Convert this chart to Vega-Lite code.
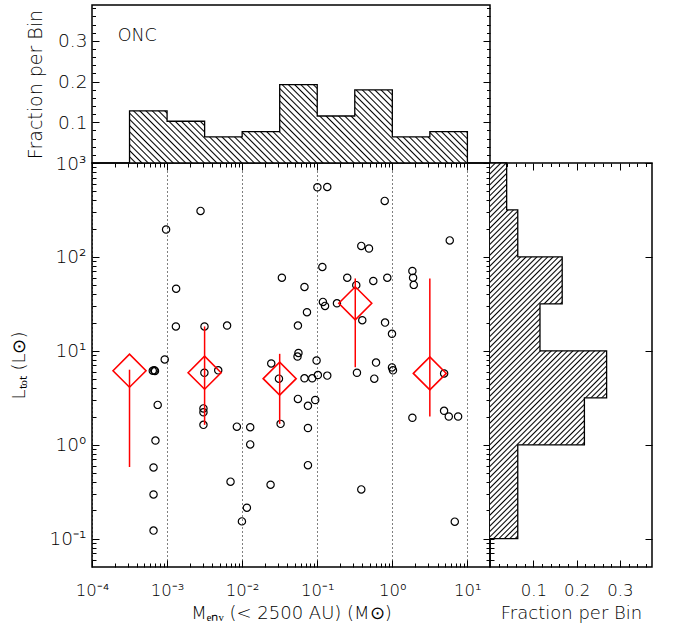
{
"$schema":"https://vega.github.io/schema/vega-lite/v6.json",
"padding":{"left":9,"top":4,"right":5,"bottom":5},
"spacing":0,
"bounds":"flush",
"config":{
 "view":{"stroke":"black","strokeWidth":1.5},
 "font":"DejaVu Sans",
 "axis":{"domain":false,"grid":false,"tickColor":"black","tickWidth":1,"labelColor":"black","titleColor":"black","labelFont":"DejaVu Sans","titleFont":"DejaVu Sans","titleFontWeight":200,"labelFontWeight":200,"labelFlush":false,"labelOverlap":false,"labelBound":false}
},
"datasets":{
 "pts":[
{"M":0.00097,"L":196},{"M":0.00279,"L":309},{"M":0.00132,"L":45.9},{"M":0.00131,"L":18.2},{"M":0.00315,"L":18.2},{"M":0.0063,"L":18.6},{"M":0.00093,"L":8.1},{"M":0.000645,"L":6.15},{"M":0.000675,"L":6.2},{"M":0.00069,"L":6.1},
{"M":0.00314,"L":5.85},{"M":0.0048,"L":6.2},{"M":0.0244,"L":7.35},{"M":0.0309,"L":5.06},{"M":0.1005,"L":552},{"M":0.136,"L":556},{"M":0.792,"L":395},{"M":5.82,"L":150},{"M":0.386,"L":131},{"M":0.489,"L":123},
{"M":0.117,"L":78.2},{"M":0.0338,"L":60.1},{"M":0.251,"L":60.1},{"M":0.558,"L":55.5},{"M":0.857,"L":60.1},{"M":1.85,"L":70.8},{"M":1.89,"L":60.1},{"M":1.93,"L":50.4},{"M":0.0676,"L":47.9},{"M":0.331,"L":50.1},
{"M":0.119,"L":33.2},{"M":0.127,"L":30.1},{"M":0.183,"L":32.1},{"M":0.073,"L":25.8},{"M":0.398,"L":21.2},{"M":0.8,"L":20},{"M":0.0553,"L":18.6},{"M":0.99,"L":15.2},{"M":0.0562,"L":9.5},{"M":0.0546,"L":8.7},
{"M":0.098,"L":7.9},{"M":0.607,"L":7.5},{"M":0.99,"L":6.67},{"M":1.02,"L":6.2},{"M":0.338,"L":5.85},{"M":0.0676,"L":5.1},{"M":0.0857,"L":5.1},{"M":0.102,"L":5.53},{"M":0.136,"L":5.45},{"M":0.575,"L":5.06},
{"M":4.9,"L":5.75},{"M":0.0553,"L":3.08},{"M":0.094,"L":3.0},{"M":0.0752,"L":2.6},{"M":0.0325,"L":1.67},{"M":0.0752,"L":1.51},{"M":0.0752,"L":0.607},{"M":0.0239,"L":0.376},{"M":0.386,"L":0.335},{"M":1.85,"L":1.94},
{"M":4.89,"L":2.3},{"M":5.65,"L":2.0},{"M":7.52,"L":2.0},{"M":6.79,"L":0.152},{"M":0.00075,"L":2.66},{"M":0.00305,"L":2.44},{"M":0.00305,"L":2.22},{"M":0.00305,"L":1.63},{"M":0.0007,"L":1.11},{"M":0.00066,"L":0.574},
{"M":0.00066,"L":0.296},{"M":0.00066,"L":0.122},{"M":0.0085,"L":1.56},{"M":0.0128,"L":1.54},{"M":0.0128,"L":1.01},{"M":0.007,"L":0.405},{"M":0.01156,"L":0.214},{"M":0.00993,"L":0.153}
 ],
 "med":[
{"M":0.000316,"L":6.15,"lo":0.58,"hi":6.3},
{"M":0.00316,"L":5.85,"lo":1.63,"hi":18.2},
{"M":0.0316,"L":5.06,"lo":1.67,"hi":9.3},
{"M":0.321,"L":32.1,"lo":6.7,"hi":59},
{"M":3.16,"L":5.75,"lo":2.0,"hi":59}
 ],
 "tophist":[
{"M":0.000316228,"f":0.128205},{"M":0.001,"f":0.102564},{"M":0.00316228,"f":0.064103},{"M":0.01,"f":0.076923},{"M":0.0316228,"f":0.192308},
{"M":0.1,"f":0.115385},{"M":0.316228,"f":0.179487},{"M":1,"f":0.064103},{"M":3.16228,"f":0.076923},{"M":10,"f":0.076923}
 ],
 "topline":[
{"o":0,"M":0.000316228,"f":0},{"o":1,"M":0.000316228,"f":0.128205},{"o":2,"M":0.001,"f":0.102564},{"o":3,"M":0.00316228,"f":0.064103},{"o":4,"M":0.01,"f":0.076923},{"o":5,"M":0.0316228,"f":0.192308},
{"o":6,"M":0.1,"f":0.115385},{"o":7,"M":0.316228,"f":0.179487},{"o":8,"M":1,"f":0.064103},{"o":9,"M":3.16228,"f":0.076923},{"o":10,"M":10,"f":0}
 ],
 "righthist":[
{"L":0.1,"f":0.064103},{"L":0.316228,"f":0.064103},{"L":1,"f":0.217949},{"L":3.16228,"f":0.269231},{"L":10,"f":0.115385},
{"L":31.6228,"f":0.166667},{"L":100,"f":0.064103},{"L":316.228,"f":0.038462},{"L":1000,"f":0.038462}
 ],
 "rightline":[
{"o":0,"L":0.1,"f":0},{"o":1,"L":0.1,"f":0.064103},{"o":2,"L":0.316228,"f":0.064103},{"o":3,"L":1,"f":0.217949},{"o":4,"L":3.16228,"f":0.269231},{"o":5,"L":10,"f":0.115385},
{"o":6,"L":31.6228,"f":0.166667},{"o":7,"L":100,"f":0.064103},{"o":8,"L":316.228,"f":0.038462},{"o":9,"L":1000,"f":0}
 ]
},
"vconcat":[
 {
  "width":398,"height":158,
  "layer":[
   {"data":{"name":"tophist"},
    "mark":{"type":"area","interpolate":"step-after","fill":{"gradient":"linear","x1":0,"y1":1,"x2":1.16893,"y2":0.72909,"stops":[
{"offset":0,"color":"#fff"},
{"offset":0.0115,"color":"#fff"},{"offset":0.015,"color":"#000"},{"offset":0.0185,"color":"#fff"},
{"offset":0.0265,"color":"#fff"},{"offset":0.03,"color":"#000"},{"offset":0.0335,"color":"#fff"},
{"offset":0.0415,"color":"#fff"},{"offset":0.045,"color":"#000"},{"offset":0.0485,"color":"#fff"},
{"offset":0.0565,"color":"#fff"},{"offset":0.06,"color":"#000"},{"offset":0.0635,"color":"#fff"},
{"offset":0.0715,"color":"#fff"},{"offset":0.075,"color":"#000"},{"offset":0.0785,"color":"#fff"},
{"offset":0.0865,"color":"#fff"},{"offset":0.09,"color":"#000"},{"offset":0.0935,"color":"#fff"},
{"offset":0.1015,"color":"#fff"},{"offset":0.105,"color":"#000"},{"offset":0.1085,"color":"#fff"},
{"offset":0.1165,"color":"#fff"},{"offset":0.12,"color":"#000"},{"offset":0.1235,"color":"#fff"},
{"offset":0.1315,"color":"#fff"},{"offset":0.135,"color":"#000"},{"offset":0.1385,"color":"#fff"},
{"offset":0.1465,"color":"#fff"},{"offset":0.15,"color":"#000"},{"offset":0.1535,"color":"#fff"},
{"offset":0.1615,"color":"#fff"},{"offset":0.165,"color":"#000"},{"offset":0.1685,"color":"#fff"},
{"offset":0.1765,"color":"#fff"},{"offset":0.18,"color":"#000"},{"offset":0.1835,"color":"#fff"},
{"offset":0.1915,"color":"#fff"},{"offset":0.195,"color":"#000"},{"offset":0.1985,"color":"#fff"},
{"offset":0.2065,"color":"#fff"},{"offset":0.21,"color":"#000"},{"offset":0.2135,"color":"#fff"},
{"offset":0.2215,"color":"#fff"},{"offset":0.225,"color":"#000"},{"offset":0.2285,"color":"#fff"},
{"offset":0.2365,"color":"#fff"},{"offset":0.24,"color":"#000"},{"offset":0.2435,"color":"#fff"},
{"offset":0.2515,"color":"#fff"},{"offset":0.255,"color":"#000"},{"offset":0.2585,"color":"#fff"},
{"offset":0.2665,"color":"#fff"},{"offset":0.27,"color":"#000"},{"offset":0.2735,"color":"#fff"},
{"offset":0.2815,"color":"#fff"},{"offset":0.285,"color":"#000"},{"offset":0.2885,"color":"#fff"},
{"offset":0.2965,"color":"#fff"},{"offset":0.3,"color":"#000"},{"offset":0.3035,"color":"#fff"},
{"offset":0.3115,"color":"#fff"},{"offset":0.315,"color":"#000"},{"offset":0.3185,"color":"#fff"},
{"offset":0.3265,"color":"#fff"},{"offset":0.33,"color":"#000"},{"offset":0.3335,"color":"#fff"},
{"offset":0.3415,"color":"#fff"},{"offset":0.345,"color":"#000"},{"offset":0.3485,"color":"#fff"},
{"offset":0.3565,"color":"#fff"},{"offset":0.36,"color":"#000"},{"offset":0.3635,"color":"#fff"},
{"offset":0.3715,"color":"#fff"},{"offset":0.375,"color":"#000"},{"offset":0.3785,"color":"#fff"},
{"offset":0.3865,"color":"#fff"},{"offset":0.39,"color":"#000"},{"offset":0.3935,"color":"#fff"},
{"offset":0.4015,"color":"#fff"},{"offset":0.405,"color":"#000"},{"offset":0.4085,"color":"#fff"},
{"offset":0.4165,"color":"#fff"},{"offset":0.42,"color":"#000"},{"offset":0.4235,"color":"#fff"},
{"offset":0.4315,"color":"#fff"},{"offset":0.435,"color":"#000"},{"offset":0.4385,"color":"#fff"},
{"offset":0.4465,"color":"#fff"},{"offset":0.45,"color":"#000"},{"offset":0.4535,"color":"#fff"},
{"offset":0.4615,"color":"#fff"},{"offset":0.465,"color":"#000"},{"offset":0.4685,"color":"#fff"},
{"offset":0.4765,"color":"#fff"},{"offset":0.48,"color":"#000"},{"offset":0.4835,"color":"#fff"},
{"offset":0.4915,"color":"#fff"},{"offset":0.495,"color":"#000"},{"offset":0.4985,"color":"#fff"},
{"offset":0.5065,"color":"#fff"},{"offset":0.51,"color":"#000"},{"offset":0.5135,"color":"#fff"},
{"offset":0.5215,"color":"#fff"},{"offset":0.525,"color":"#000"},{"offset":0.5285,"color":"#fff"},
{"offset":0.5365,"color":"#fff"},{"offset":0.54,"color":"#000"},{"offset":0.5435,"color":"#fff"},
{"offset":0.5515,"color":"#fff"},{"offset":0.555,"color":"#000"},{"offset":0.5585,"color":"#fff"},
{"offset":0.5665,"color":"#fff"},{"offset":0.57,"color":"#000"},{"offset":0.5735,"color":"#fff"},
{"offset":0.5815,"color":"#fff"},{"offset":0.585,"color":"#000"},{"offset":0.5885,"color":"#fff"},
{"offset":0.5965,"color":"#fff"},{"offset":0.6,"color":"#000"},{"offset":0.6035,"color":"#fff"},
{"offset":0.6115,"color":"#fff"},{"offset":0.615,"color":"#000"},{"offset":0.6185,"color":"#fff"},
{"offset":0.6265,"color":"#fff"},{"offset":0.63,"color":"#000"},{"offset":0.6335,"color":"#fff"},
{"offset":0.6415,"color":"#fff"},{"offset":0.645,"color":"#000"},{"offset":0.6485,"color":"#fff"},
{"offset":0.6565,"color":"#fff"},{"offset":0.66,"color":"#000"},{"offset":0.6635,"color":"#fff"},
{"offset":0.6715,"color":"#fff"},{"offset":0.675,"color":"#000"},{"offset":0.6785,"color":"#fff"},
{"offset":0.6865,"color":"#fff"},{"offset":0.69,"color":"#000"},{"offset":0.6935,"color":"#fff"},
{"offset":0.7015,"color":"#fff"},{"offset":0.705,"color":"#000"},{"offset":0.7085,"color":"#fff"},
{"offset":0.7165,"color":"#fff"},{"offset":0.72,"color":"#000"},{"offset":0.7235,"color":"#fff"},
{"offset":0.7315,"color":"#fff"},{"offset":0.735,"color":"#000"},{"offset":0.7385,"color":"#fff"},
{"offset":0.7465,"color":"#fff"},{"offset":0.75,"color":"#000"},{"offset":0.7535,"color":"#fff"},
{"offset":0.7615,"color":"#fff"},{"offset":0.765,"color":"#000"},{"offset":0.7685,"color":"#fff"},
{"offset":0.7765,"color":"#fff"},{"offset":0.78,"color":"#000"},{"offset":0.7835,"color":"#fff"},
{"offset":0.7915,"color":"#fff"},{"offset":0.795,"color":"#000"},{"offset":0.7985,"color":"#fff"},
{"offset":0.8065,"color":"#fff"},{"offset":0.81,"color":"#000"},{"offset":0.8135,"color":"#fff"},
{"offset":0.8215,"color":"#fff"},{"offset":0.825,"color":"#000"},{"offset":0.8285,"color":"#fff"},
{"offset":0.8365,"color":"#fff"},{"offset":0.84,"color":"#000"},{"offset":0.8435,"color":"#fff"},
{"offset":0.8515,"color":"#fff"},{"offset":0.855,"color":"#000"},{"offset":0.8585,"color":"#fff"},
{"offset":0.8665,"color":"#fff"},{"offset":0.87,"color":"#000"},{"offset":0.8735,"color":"#fff"},
{"offset":0.8815,"color":"#fff"},{"offset":0.885,"color":"#000"},{"offset":0.8885,"color":"#fff"},
{"offset":0.8965,"color":"#fff"},{"offset":0.9,"color":"#000"},{"offset":0.9035,"color":"#fff"},
{"offset":0.9115,"color":"#fff"},{"offset":0.915,"color":"#000"},{"offset":0.9185,"color":"#fff"},
{"offset":0.9265,"color":"#fff"},{"offset":0.93,"color":"#000"},{"offset":0.9335,"color":"#fff"},
{"offset":0.9415,"color":"#fff"},{"offset":0.945,"color":"#000"},{"offset":0.9485,"color":"#fff"},
{"offset":0.9565,"color":"#fff"},{"offset":0.96,"color":"#000"},{"offset":0.9635,"color":"#fff"},
{"offset":0.9715,"color":"#fff"},{"offset":0.975,"color":"#000"},{"offset":0.9785,"color":"#fff"},
{"offset":0.9865,"color":"#fff"},{"offset":0.99,"color":"#000"},{"offset":0.9935,"color":"#fff"},
{"offset":1,"color":"#fff"}
    ]}},
    "encoding":{
     "x":{"field":"M","type":"quantitative","scale":{"type":"log","domain":[0.0001,20],"nice":false},"axis":null},
     "y":{"field":"f","type":"quantitative","stack":null,"scale":{"domain":[0,0.388],"nice":false,"zero":true},
      "axis":{"orient":"left","values":[0.1,0.2,0.3],"format":".1f","tickSize":-7,"labelPadding":12,"labelFontSize":18.5,"title":"Fraction per Bin","titleFontSize":19,"titlePadding":12}}
    }},
   {"data":{"name":"topline"},
    "mark":{"type":"line","interpolate":"step-after","color":"black","strokeWidth":1.3},
    "encoding":{
     "x":{"field":"M","type":"quantitative","axis":null},
     "y":{"field":"f","type":"quantitative","axis":{"orient":"left","values":[0.02,0.04,0.06,0.08,0.12,0.14,0.16,0.18,0.22,0.24,0.26,0.28,0.32,0.34,0.36,0.38],"tickSize":-3.5,"labels":false,"title":null}},
     "order":{"field":"o","type":"quantitative"}
    }},
   {"data":{"values":[{}]},
    "mark":{"type":"text","text":"ONC","align":"left","baseline":"alphabetic","fontSize":17.5,"fontWeight":200,"font":"DejaVu Sans","color":"black"},
    "encoding":{
     "x":{"datum":0.00022,"type":"quantitative","axis":null},
     "y":{"datum":0.30,"type":"quantitative","axis":{"orient":"right","values":[0.1,0.2,0.3],"tickSize":-7,"labels":false,"title":null}}
    }},
   {"data":{"name":"topline"},
    "mark":{"type":"point","opacity":0},
    "encoding":{
     "x":{"field":"M","type":"quantitative","axis":null},
     "y":{"field":"f","type":"quantitative","axis":{"orient":"right","values":[0.02,0.04,0.06,0.08,0.12,0.14,0.16,0.18,0.22,0.24,0.26,0.28,0.32,0.34,0.36,0.38],"tickSize":-3.5,"labels":false,"title":null}}
    }}
  ],
  "resolve":{"axis":{"x":"independent","y":"independent"}}
 },
 {
  "hconcat":[
   {
    "width":398,"height":404,
    "layer":[
     {"data":{"name":"pts"},
      "mark":{"type":"point","shape":"circle","size":53,"filled":false,"stroke":"black","strokeWidth":1.2,"opacity":1},
      "encoding":{
       "x":{"field":"M","type":"quantitative","scale":{"type":"log","domain":[0.0001,20],"nice":false},
        "axis":{"orient":"bottom","values":[0.0001,0.001,0.01,0.1,1,10],"labelExpr":"'10' + ['⁻⁴','⁻³','⁻²','⁻¹','⁰','¹','²','³'][round(log(datum.value)/LN10)+4]","tickSize":-7,"labelPadding":22,"labelFontSize":16.5,"grid":true,"gridDash":[1,3],"gridColor":"black","gridOpacity":1,"gridWidth":1,"title":"Mₑₙᵥ (< 2500 AU) (M⊙)","titleFontSize":18,"titlePadding":6}},
       "y":{"field":"L","type":"quantitative","scale":{"type":"log","domain":[0.05,1000],"nice":false},
        "axis":{"orient":"left","values":[0.1,1,10,100,1000],"labelExpr":"'10' + ['⁻⁴','⁻³','⁻²','⁻¹','⁰','¹','²','³'][round(log(datum.value)/LN10)+4]","tickSize":-7,"labelPadding":13,"labelFontSize":18.5,"title":"Lₜₒₜ (L⊙)","titleFontSize":18,"titlePadding":21}}
      }},
     {"data":{"name":"med"},
      "mark":{"type":"rule","color":"#ff0000","strokeWidth":1.5},
      "encoding":{
       "x":{"field":"M","type":"quantitative","axis":{"orient":"bottom","values":[0.0002,0.0003,0.0004,0.0005,0.0006,0.0007,0.0008,0.0009,0.002,0.003,0.004,0.005,0.006,0.007,0.008,0.009,0.02,0.03,0.04,0.05,0.06,0.07,0.08,0.09,0.2,0.3,0.4,0.5,0.6,0.7,0.8,0.9,2,3,4,5,6,7,8,9],"tickSize":-4,"labels":false,"title":null}},
       "y":{"field":"lo","type":"quantitative","axis":{"orient":"left","values":[0.06,0.07,0.08,0.09,0.2,0.3,0.4,0.5,0.6,0.7,0.8,0.9,2,3,4,5,6,7,8,9,20,30,40,50,60,70,80,90,200,300,400,500,600,700,800,900],"tickSize":-4,"labels":false,"title":null}},
       "y2":{"field":"hi"}
      }},
     {"data":{"name":"med"},
      "mark":{"type":"point","shape":"diamond","size":1089,"filled":false,"stroke":"#ff0000","strokeWidth":1.6,"opacity":1},
      "encoding":{
       "x":{"field":"M","type":"quantitative","axis":{"orient":"top","values":[0.0001,0.001,0.01,0.1,1,10],"tickSize":-7,"labels":false,"title":null}},
       "y":{"field":"L","type":"quantitative","axis":{"orient":"right","values":[0.1,1,10,100,1000],"tickSize":-7,"labels":false,"title":null}}
      }},
     {"data":{"name":"med"},
      "mark":{"type":"point","opacity":0},
      "encoding":{
       "x":{"field":"M","type":"quantitative","axis":{"orient":"top","values":[0.0002,0.0003,0.0004,0.0005,0.0006,0.0007,0.0008,0.0009,0.002,0.003,0.004,0.005,0.006,0.007,0.008,0.009,0.02,0.03,0.04,0.05,0.06,0.07,0.08,0.09,0.2,0.3,0.4,0.5,0.6,0.7,0.8,0.9,2,3,4,5,6,7,8,9],"tickSize":-4,"labels":false,"title":null}},
       "y":{"field":"L","type":"quantitative","axis":{"orient":"right","values":[0.06,0.07,0.08,0.09,0.2,0.3,0.4,0.5,0.6,0.7,0.8,0.9,2,3,4,5,6,7,8,9,20,30,40,50,60,70,80,90,200,300,400,500,600,700,800,900],"tickSize":-4,"labels":false,"title":null}}
      }}
    ],
    "resolve":{"axis":{"x":"independent","y":"independent"}}
   },
   {
    "width":162,"height":404,
    "layer":[
     {"data":{"name":"righthist"},
      "mark":{"type":"area","orient":"horizontal","interpolate":"step-after","fill":{"gradient":"linear","x1":0,"y1":0,"x2":0.37099,"y2":1.19523,"stops":[
{"offset":0,"color":"#fff"},
{"offset":0.008,"color":"#fff"},{"offset":0.011,"color":"#000"},{"offset":0.014,"color":"#fff"},
{"offset":0.019,"color":"#fff"},{"offset":0.022,"color":"#000"},{"offset":0.025,"color":"#fff"},
{"offset":0.030,"color":"#fff"},{"offset":0.033,"color":"#000"},{"offset":0.036,"color":"#fff"},
{"offset":0.041,"color":"#fff"},{"offset":0.044,"color":"#000"},{"offset":0.047,"color":"#fff"},
{"offset":0.052,"color":"#fff"},{"offset":0.055,"color":"#000"},{"offset":0.058,"color":"#fff"},
{"offset":0.063,"color":"#fff"},{"offset":0.066,"color":"#000"},{"offset":0.069,"color":"#fff"},
{"offset":0.074,"color":"#fff"},{"offset":0.077,"color":"#000"},{"offset":0.080,"color":"#fff"},
{"offset":0.085,"color":"#fff"},{"offset":0.088,"color":"#000"},{"offset":0.091,"color":"#fff"},
{"offset":0.096,"color":"#fff"},{"offset":0.099,"color":"#000"},{"offset":0.102,"color":"#fff"},
{"offset":0.107,"color":"#fff"},{"offset":0.110,"color":"#000"},{"offset":0.113,"color":"#fff"},
{"offset":0.118,"color":"#fff"},{"offset":0.121,"color":"#000"},{"offset":0.124,"color":"#fff"},
{"offset":0.129,"color":"#fff"},{"offset":0.132,"color":"#000"},{"offset":0.135,"color":"#fff"},
{"offset":0.140,"color":"#fff"},{"offset":0.143,"color":"#000"},{"offset":0.146,"color":"#fff"},
{"offset":0.151,"color":"#fff"},{"offset":0.154,"color":"#000"},{"offset":0.157,"color":"#fff"},
{"offset":0.162,"color":"#fff"},{"offset":0.165,"color":"#000"},{"offset":0.168,"color":"#fff"},
{"offset":0.173,"color":"#fff"},{"offset":0.176,"color":"#000"},{"offset":0.179,"color":"#fff"},
{"offset":0.184,"color":"#fff"},{"offset":0.187,"color":"#000"},{"offset":0.190,"color":"#fff"},
{"offset":0.195,"color":"#fff"},{"offset":0.198,"color":"#000"},{"offset":0.201,"color":"#fff"},
{"offset":0.206,"color":"#fff"},{"offset":0.209,"color":"#000"},{"offset":0.212,"color":"#fff"},
{"offset":0.217,"color":"#fff"},{"offset":0.220,"color":"#000"},{"offset":0.223,"color":"#fff"},
{"offset":0.228,"color":"#fff"},{"offset":0.231,"color":"#000"},{"offset":0.234,"color":"#fff"},
{"offset":0.239,"color":"#fff"},{"offset":0.242,"color":"#000"},{"offset":0.245,"color":"#fff"},
{"offset":0.250,"color":"#fff"},{"offset":0.253,"color":"#000"},{"offset":0.256,"color":"#fff"},
{"offset":0.261,"color":"#fff"},{"offset":0.264,"color":"#000"},{"offset":0.267,"color":"#fff"},
{"offset":0.272,"color":"#fff"},{"offset":0.275,"color":"#000"},{"offset":0.278,"color":"#fff"},
{"offset":0.283,"color":"#fff"},{"offset":0.286,"color":"#000"},{"offset":0.289,"color":"#fff"},
{"offset":0.294,"color":"#fff"},{"offset":0.297,"color":"#000"},{"offset":0.300,"color":"#fff"},
{"offset":0.305,"color":"#fff"},{"offset":0.308,"color":"#000"},{"offset":0.311,"color":"#fff"},
{"offset":0.316,"color":"#fff"},{"offset":0.319,"color":"#000"},{"offset":0.322,"color":"#fff"},
{"offset":0.327,"color":"#fff"},{"offset":0.330,"color":"#000"},{"offset":0.333,"color":"#fff"},
{"offset":0.338,"color":"#fff"},{"offset":0.341,"color":"#000"},{"offset":0.344,"color":"#fff"},
{"offset":0.349,"color":"#fff"},{"offset":0.352,"color":"#000"},{"offset":0.355,"color":"#fff"},
{"offset":0.360,"color":"#fff"},{"offset":0.363,"color":"#000"},{"offset":0.366,"color":"#fff"},
{"offset":0.371,"color":"#fff"},{"offset":0.374,"color":"#000"},{"offset":0.377,"color":"#fff"},
{"offset":0.382,"color":"#fff"},{"offset":0.385,"color":"#000"},{"offset":0.388,"color":"#fff"},
{"offset":0.393,"color":"#fff"},{"offset":0.396,"color":"#000"},{"offset":0.399,"color":"#fff"},
{"offset":0.404,"color":"#fff"},{"offset":0.407,"color":"#000"},{"offset":0.410,"color":"#fff"},
{"offset":0.415,"color":"#fff"},{"offset":0.418,"color":"#000"},{"offset":0.421,"color":"#fff"},
{"offset":0.426,"color":"#fff"},{"offset":0.429,"color":"#000"},{"offset":0.432,"color":"#fff"},
{"offset":0.437,"color":"#fff"},{"offset":0.440,"color":"#000"},{"offset":0.443,"color":"#fff"},
{"offset":0.448,"color":"#fff"},{"offset":0.451,"color":"#000"},{"offset":0.454,"color":"#fff"},
{"offset":0.459,"color":"#fff"},{"offset":0.462,"color":"#000"},{"offset":0.465,"color":"#fff"},
{"offset":0.470,"color":"#fff"},{"offset":0.473,"color":"#000"},{"offset":0.476,"color":"#fff"},
{"offset":0.481,"color":"#fff"},{"offset":0.484,"color":"#000"},{"offset":0.487,"color":"#fff"},
{"offset":0.492,"color":"#fff"},{"offset":0.495,"color":"#000"},{"offset":0.498,"color":"#fff"},
{"offset":0.503,"color":"#fff"},{"offset":0.506,"color":"#000"},{"offset":0.509,"color":"#fff"},
{"offset":0.514,"color":"#fff"},{"offset":0.517,"color":"#000"},{"offset":0.520,"color":"#fff"},
{"offset":0.525,"color":"#fff"},{"offset":0.528,"color":"#000"},{"offset":0.531,"color":"#fff"},
{"offset":0.536,"color":"#fff"},{"offset":0.539,"color":"#000"},{"offset":0.542,"color":"#fff"},
{"offset":0.547,"color":"#fff"},{"offset":0.550,"color":"#000"},{"offset":0.553,"color":"#fff"},
{"offset":0.558,"color":"#fff"},{"offset":0.561,"color":"#000"},{"offset":0.564,"color":"#fff"},
{"offset":0.569,"color":"#fff"},{"offset":0.572,"color":"#000"},{"offset":0.575,"color":"#fff"},
{"offset":0.580,"color":"#fff"},{"offset":0.583,"color":"#000"},{"offset":0.586,"color":"#fff"},
{"offset":0.591,"color":"#fff"},{"offset":0.594,"color":"#000"},{"offset":0.597,"color":"#fff"},
{"offset":0.602,"color":"#fff"},{"offset":0.605,"color":"#000"},{"offset":0.608,"color":"#fff"},
{"offset":0.613,"color":"#fff"},{"offset":0.616,"color":"#000"},{"offset":0.619,"color":"#fff"},
{"offset":0.624,"color":"#fff"},{"offset":0.627,"color":"#000"},{"offset":0.630,"color":"#fff"},
{"offset":0.635,"color":"#fff"},{"offset":0.638,"color":"#000"},{"offset":0.641,"color":"#fff"},
{"offset":0.646,"color":"#fff"},{"offset":0.649,"color":"#000"},{"offset":0.652,"color":"#fff"},
{"offset":0.657,"color":"#fff"},{"offset":0.660,"color":"#000"},{"offset":0.663,"color":"#fff"},
{"offset":0.668,"color":"#fff"},{"offset":0.671,"color":"#000"},{"offset":0.674,"color":"#fff"},
{"offset":0.679,"color":"#fff"},{"offset":0.682,"color":"#000"},{"offset":0.685,"color":"#fff"},
{"offset":0.690,"color":"#fff"},{"offset":0.693,"color":"#000"},{"offset":0.696,"color":"#fff"},
{"offset":0.701,"color":"#fff"},{"offset":0.704,"color":"#000"},{"offset":0.707,"color":"#fff"},
{"offset":0.712,"color":"#fff"},{"offset":0.715,"color":"#000"},{"offset":0.718,"color":"#fff"},
{"offset":0.723,"color":"#fff"},{"offset":0.726,"color":"#000"},{"offset":0.729,"color":"#fff"},
{"offset":0.734,"color":"#fff"},{"offset":0.737,"color":"#000"},{"offset":0.740,"color":"#fff"},
{"offset":0.745,"color":"#fff"},{"offset":0.748,"color":"#000"},{"offset":0.751,"color":"#fff"},
{"offset":0.756,"color":"#fff"},{"offset":0.759,"color":"#000"},{"offset":0.762,"color":"#fff"},
{"offset":0.767,"color":"#fff"},{"offset":0.770,"color":"#000"},{"offset":0.773,"color":"#fff"},
{"offset":0.778,"color":"#fff"},{"offset":0.781,"color":"#000"},{"offset":0.784,"color":"#fff"},
{"offset":0.789,"color":"#fff"},{"offset":0.792,"color":"#000"},{"offset":0.795,"color":"#fff"},
{"offset":0.800,"color":"#fff"},{"offset":0.803,"color":"#000"},{"offset":0.806,"color":"#fff"},
{"offset":0.811,"color":"#fff"},{"offset":0.814,"color":"#000"},{"offset":0.817,"color":"#fff"},
{"offset":0.822,"color":"#fff"},{"offset":0.825,"color":"#000"},{"offset":0.828,"color":"#fff"},
{"offset":0.833,"color":"#fff"},{"offset":0.836,"color":"#000"},{"offset":0.839,"color":"#fff"},
{"offset":0.844,"color":"#fff"},{"offset":0.847,"color":"#000"},{"offset":0.850,"color":"#fff"},
{"offset":0.855,"color":"#fff"},{"offset":0.858,"color":"#000"},{"offset":0.861,"color":"#fff"},
{"offset":0.866,"color":"#fff"},{"offset":0.869,"color":"#000"},{"offset":0.872,"color":"#fff"},
{"offset":0.877,"color":"#fff"},{"offset":0.880,"color":"#000"},{"offset":0.883,"color":"#fff"},
{"offset":0.888,"color":"#fff"},{"offset":0.891,"color":"#000"},{"offset":0.894,"color":"#fff"},
{"offset":0.899,"color":"#fff"},{"offset":0.902,"color":"#000"},{"offset":0.905,"color":"#fff"},
{"offset":0.910,"color":"#fff"},{"offset":0.913,"color":"#000"},{"offset":0.916,"color":"#fff"},
{"offset":0.921,"color":"#fff"},{"offset":0.924,"color":"#000"},{"offset":0.927,"color":"#fff"},
{"offset":0.932,"color":"#fff"},{"offset":0.935,"color":"#000"},{"offset":0.938,"color":"#fff"},
{"offset":0.943,"color":"#fff"},{"offset":0.946,"color":"#000"},{"offset":0.949,"color":"#fff"},
{"offset":0.954,"color":"#fff"},{"offset":0.957,"color":"#000"},{"offset":0.960,"color":"#fff"},
{"offset":0.965,"color":"#fff"},{"offset":0.968,"color":"#000"},{"offset":0.971,"color":"#fff"},
{"offset":0.976,"color":"#fff"},{"offset":0.979,"color":"#000"},{"offset":0.982,"color":"#fff"},
{"offset":0.987,"color":"#fff"},{"offset":0.990,"color":"#000"},{"offset":0.993,"color":"#fff"},
{"offset":1,"color":"#fff"}
      ]}},
      "encoding":{
       "x":{"field":"f","type":"quantitative","stack":null,"scale":{"domain":[0,0.374],"nice":false,"zero":true},
        "axis":{"orient":"bottom","values":[0.1,0.2,0.3],"format":".1f","tickSize":-7,"labelPadding":22,"labelFontSize":16.5,"title":"Fraction per Bin","titleFontSize":18,"titlePadding":6}},
       "y":{"field":"L","type":"quantitative","scale":{"type":"log","domain":[0.05,1000],"nice":false},
        "axis":{"orient":"left","values":[0.06,0.07,0.08,0.09,0.1,0.2,0.3,0.4,0.5,0.6,0.7,0.8,0.9,1,2,3,4,5,6,7,8,9,10,20,30,40,50,60,70,80,90,100,200,300,400,500,600,700,800,900],"tickSize":-4,"labels":false,"title":null}}
      }},
     {"data":{"name":"rightline"},
      "mark":{"type":"line","interpolate":"step-before","color":"black","strokeWidth":1.3},
      "encoding":{
       "x":{"field":"f","type":"quantitative","axis":{"orient":"bottom","values":[0.02,0.04,0.06,0.08,0.12,0.14,0.16,0.18,0.22,0.24,0.26,0.28,0.32,0.34,0.36],"tickSize":-3.5,"labels":false,"title":null}},
       "y":{"field":"L","type":"quantitative","axis":{"orient":"right","values":[0.1,1,10,100,1000],"tickSize":-7,"labels":false,"title":null}},
       "order":{"field":"o","type":"quantitative"}
      }},
     {"data":{"name":"rightline"},
      "mark":{"type":"point","opacity":0},
      "encoding":{
       "x":{"field":"f","type":"quantitative","axis":{"orient":"top","values":[0.1,0.2,0.3],"tickSize":-7,"labels":false,"title":null}},
       "y":{"field":"L","type":"quantitative","axis":null}
      }},
     {"data":{"name":"rightline"},
      "mark":{"type":"point","opacity":0},
      "encoding":{
       "x":{"field":"f","type":"quantitative","axis":{"orient":"top","values":[0.02,0.04,0.06,0.08,0.12,0.14,0.16,0.18,0.22,0.24,0.26,0.28,0.32,0.34,0.36],"tickSize":-3.5,"labels":false,"title":null}},
       "y":{"field":"L","type":"quantitative","axis":null}
      }}
    ],
    "resolve":{"axis":{"x":"independent","y":"independent"}}
   }
  ],
  "spacing":0,
  "bounds":"flush"
 }
]
}
